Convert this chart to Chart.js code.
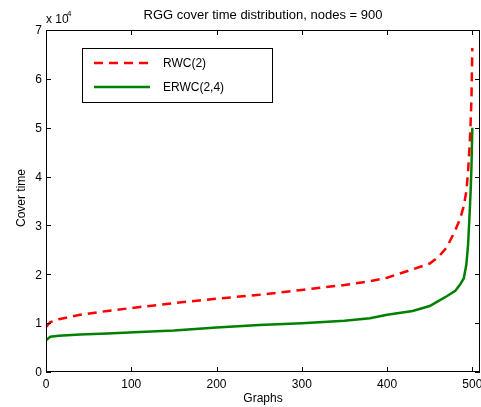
<!DOCTYPE html>
<html lang="en">
<head>
  <meta charset="UTF-8">
  <title>RGG cover time distribution</title>
  <script src="https://cdn.jsdelivr.net/npm/chart.js"></script>
  <style>
    html, body {
      margin: 0;
      padding: 0;
      background: #fff;
    }
    #wrap {
      width: 481px;
      height: 407px;
    }
  </style>
</head>
<body>
<div id="wrap"><canvas id="coverChart" width="481" height="407"></canvas></div>

<script>
// graph index (sorted by cover time) and cover times, in units of 10^4
const graphIdx   = [0, 5, 15, 40, 72, 110, 150, 200, 250, 300, 350, 380, 400, 430, 450, 460, 470, 480, 486, 490, 493, 495, 497, 498, 499, 500];
const rwcValues  = [0.92, 1.02, 1.08, 1.17, 1.25, 1.33, 1.41, 1.50, 1.58, 1.68, 1.78, 1.86, 1.93, 2.10, 2.22, 2.35, 2.55, 2.90, 3.15, 3.40, 3.70, 4.10, 4.70, 5.10, 5.60, 6.63];
const erwcValues = [0.65, 0.72, 0.74, 0.77, 0.79, 0.82, 0.85, 0.91, 0.96, 1.00, 1.05, 1.10, 1.17, 1.25, 1.35, 1.45, 1.55, 1.66, 1.80, 1.92, 2.20, 2.60, 3.30, 3.70, 4.20, 5.00];
const xTicks = [0, 100, 200, 300, 400, 500];
const yTicks = [0, 1, 2, 3, 4, 5, 6, 7];

const FONT = '"Liberation Sans", Arial, sans-serif';

function toPoints(xs, ys) {
  return xs.map((x, i) => ({ x: x, y: ys[i] }));
}

// MATLAB style box, inward ticks, labels, title and legend
const matlabAxes = {
  id: 'matlabAxes',
  afterDraw(chart) {
    const ctx = chart.ctx;
    const a = chart.chartArea;
    const xs = chart.scales.x;
    const ys = chart.scales.y;
    ctx.save();

    ctx.strokeStyle = '#000';
    ctx.lineWidth = 1;
    ctx.strokeRect(a.left + 0.5, a.top + 0.5, a.right - a.left - 1, a.bottom - a.top - 1);

    ctx.fillStyle = '#000';
    ctx.font = '12px ' + FONT;
    ctx.beginPath();
    xs.ticks.forEach(t => {
      const px = Math.round(xs.getPixelForValue(t.value)) + 0.5;
      ctx.moveTo(px, a.bottom); ctx.lineTo(px, a.bottom - 5);
      ctx.moveTo(px, a.top); ctx.lineTo(px, a.top + 5);
    });
    ys.ticks.forEach(t => {
      const py = Math.round(ys.getPixelForValue(t.value)) + 0.5;
      ctx.moveTo(a.left, py); ctx.lineTo(a.left + 5, py);
      ctx.moveTo(a.right, py); ctx.lineTo(a.right - 5, py);
    });
    ctx.stroke();

    ctx.textAlign = 'center';
    ctx.textBaseline = 'middle';
    xs.ticks.forEach(t => {
      ctx.fillText(String(t.value), xs.getPixelForValue(t.value), a.bottom + 13);
    });
    ctx.textAlign = 'right';
    ys.ticks.forEach(t => {
      ctx.fillText(String(t.value), a.left - 4, ys.getPixelForValue(t.value) + 1);
    });

    // exponent
    ctx.textAlign = 'left';
    ctx.fillText('x 10', a.left, 20);
    ctx.font = '8px ' + FONT;
    ctx.fillText('4', a.left + 21, 14);

    // axis titles
    ctx.font = '12px ' + FONT;
    ctx.textAlign = 'center';
    ctx.fillText('Graphs', (a.left + a.right) / 2, 399);
    ctx.save();
    ctx.translate(22, 198);
    ctx.rotate(-Math.PI / 2);
    ctx.fillText('Cover time', 0, 0);
    ctx.restore();

    ctx.font = '13px ' + FONT;
    ctx.fillText('RGG cover time distribution, nodes = 900', (a.left + a.right) / 2, 15);

    // legend
    ctx.fillStyle = '#fff';
    ctx.fillRect(82, 48, 190, 54);
    ctx.strokeStyle = '#000';
    ctx.lineWidth = 1;
    ctx.strokeRect(82.5, 48.5, 190, 54);
    ctx.font = '12px ' + FONT;
    ctx.textAlign = 'left';
    const rows = [63, 87];
    chart.data.datasets.forEach((ds, i) => {
      const y = rows[i];
      ctx.strokeStyle = ds.borderColor;
      ctx.lineWidth = ds.borderWidth;
      ctx.setLineDash(ds.borderDash || []);
      ctx.beginPath();
      ctx.moveTo(94, y); ctx.lineTo(150, y);
      ctx.stroke();
      ctx.setLineDash([]);
      ctx.fillStyle = '#000';
      ctx.fillText(ds.label, 163, y + 1);
    });

    ctx.restore();
  }
};

new Chart(document.getElementById('coverChart'), {
  type: 'line',
  data: {
    datasets: [
      {
        label: 'RWC(2)',
        data: toPoints(graphIdx, rwcValues),
        borderColor: '#ff0000',
        borderWidth: 2.5,
        borderDash: [9, 6],
        pointRadius: 0,
        tension: 0,
        fill: false
      },
      {
        label: 'ERWC(2,4)',
        data: toPoints(graphIdx, erwcValues),
        borderColor: '#008000',
        borderWidth: 2.5,
        pointRadius: 0,
        tension: 0,
        fill: false
      }
    ]
  },
  options: {
    responsive: false,
    animation: false,
    layout: { padding: { left: 46, right: 1, top: 30, bottom: 35 } },
    plugins: {
      legend: { display: false },
      title: { display: false },
      tooltip: { enabled: false }
    },
    scales: {
      x: {
        type: 'linear',
        display: false,
        min: 0,
        max: 509,
        afterBuildTicks: s => { s.ticks = xTicks.map(v => ({ value: v })); }
      },
      y: {
        type: 'linear',
        display: false,
        min: 0,
        max: 7,
        afterBuildTicks: s => { s.ticks = yTicks.map(v => ({ value: v })); }
      }
    }
  },
  plugins: [matlabAxes]
});
</script>
</body>
</html>
